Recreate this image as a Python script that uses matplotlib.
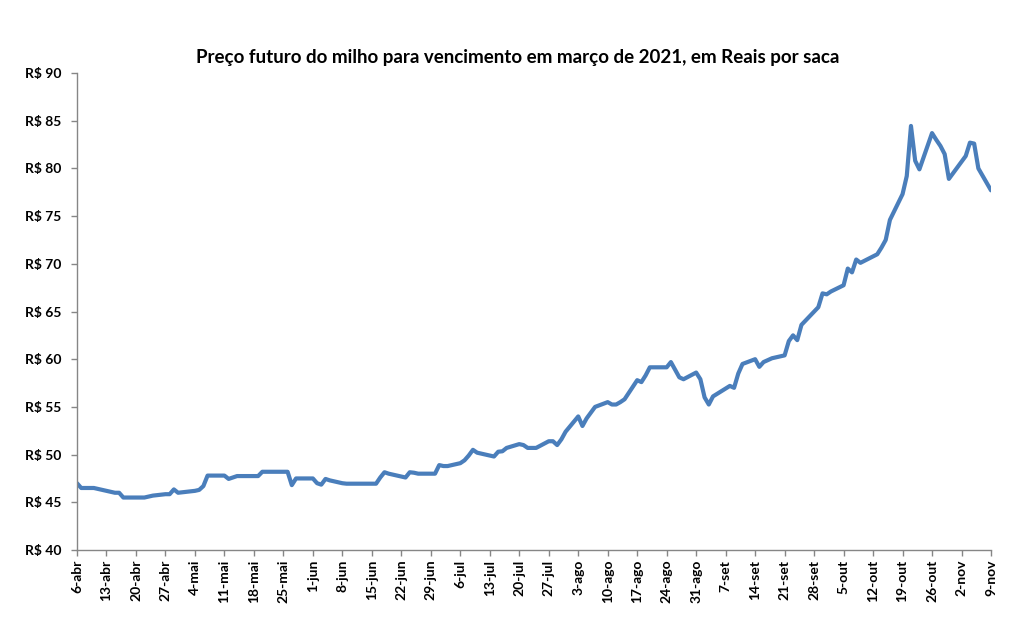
import matplotlib
matplotlib.use("Agg")
import matplotlib.pyplot as plt
import datetime as dt

# ---- data (2020 trading days, R$ per saca) ----
dates = [
    "2020-04-06", "2020-04-07", "2020-04-08", "2020-04-09", "2020-04-10",
    "2020-04-13", "2020-04-14", "2020-04-15", "2020-04-16", "2020-04-17",
    "2020-04-20", "2020-04-21", "2020-04-22", "2020-04-23", "2020-04-24",
    "2020-04-27", "2020-04-28", "2020-04-29", "2020-04-30",
    "2020-05-04", "2020-05-05", "2020-05-06", "2020-05-07", "2020-05-08",
    "2020-05-11", "2020-05-12", "2020-05-13", "2020-05-14", "2020-05-15",
    "2020-05-18", "2020-05-19", "2020-05-20", "2020-05-21", "2020-05-22",
    "2020-05-25", "2020-05-26", "2020-05-27", "2020-05-28", "2020-05-29",
    "2020-06-01", "2020-06-02", "2020-06-03", "2020-06-04", "2020-06-05",
    "2020-06-08", "2020-06-09", "2020-06-10", "2020-06-12",
    "2020-06-15", "2020-06-16", "2020-06-17", "2020-06-18", "2020-06-19",
    "2020-06-22", "2020-06-23", "2020-06-24", "2020-06-25", "2020-06-26",
    "2020-06-29", "2020-06-30", "2020-07-01", "2020-07-02", "2020-07-03",
    "2020-07-06", "2020-07-07", "2020-07-08", "2020-07-09", "2020-07-10",
    "2020-07-13", "2020-07-14", "2020-07-15", "2020-07-16", "2020-07-17",
    "2020-07-20", "2020-07-21", "2020-07-22", "2020-07-23", "2020-07-24",
    "2020-07-27", "2020-07-28", "2020-07-29", "2020-07-30", "2020-07-31",
    "2020-08-03", "2020-08-04", "2020-08-05", "2020-08-06", "2020-08-07",
    "2020-08-10", "2020-08-11", "2020-08-12", "2020-08-13", "2020-08-14",
    "2020-08-17", "2020-08-18", "2020-08-19", "2020-08-20", "2020-08-21",
    "2020-08-24", "2020-08-25", "2020-08-26", "2020-08-27", "2020-08-28",
    "2020-08-31", "2020-09-01", "2020-09-02", "2020-09-03", "2020-09-04",
    "2020-09-08", "2020-09-09", "2020-09-10", "2020-09-11",
    "2020-09-14", "2020-09-15", "2020-09-16", "2020-09-17", "2020-09-18",
    "2020-09-21", "2020-09-22", "2020-09-23", "2020-09-24", "2020-09-25",
    "2020-09-28", "2020-09-29", "2020-09-30", "2020-10-01", "2020-10-02",
    "2020-10-05", "2020-10-06", "2020-10-07", "2020-10-08", "2020-10-09",
    "2020-10-13", "2020-10-14", "2020-10-15", "2020-10-16",
    "2020-10-19", "2020-10-20", "2020-10-21", "2020-10-22", "2020-10-23",
    "2020-10-26", "2020-10-27", "2020-10-28", "2020-10-29", "2020-10-30",
    "2020-11-03", "2020-11-04", "2020-11-05", "2020-11-06",
    "2020-11-09",
]
prices = [
    47.0, 46.5, 46.5, 46.5, 46.5,
    46.2, 46.1, 46.0, 46.0, 45.5,
    45.5, 45.5, 45.5, 45.6, 45.7,
    45.85, 45.85, 46.35, 46.0,
    46.2, 46.3, 46.7, 47.8, 47.8,
    47.8, 47.45, 47.6, 47.75, 47.75,
    47.75, 47.75, 48.2, 48.2, 48.2,
    48.2, 48.2, 46.8, 47.5, 47.5,
    47.5, 47.0, 46.85, 47.45, 47.3,
    47.0, 46.95, 46.95, 46.95,
    46.95, 46.95, 47.6, 48.15, 48.0,
    47.7, 47.6, 48.15, 48.1, 48.0,
    48.0, 48.0, 48.9, 48.8, 48.8,
    49.1, 49.4, 49.9, 50.5, 50.2,
    49.9, 49.8, 50.3, 50.35, 50.7,
    51.1, 51.0, 50.7, 50.7, 50.7,
    51.4, 51.4, 51.0, 51.6, 52.4,
    54.0, 53.0, 53.8, 54.4, 55.0,
    55.5, 55.25, 55.25, 55.5, 55.8,
    57.8, 57.6, 58.3, 59.15, 59.15,
    59.15, 59.7, 58.9, 58.1, 57.9,
    58.6, 57.9, 56.0, 55.25, 56.1,
    57.2, 57.0, 58.5, 59.5,
    60.0, 59.2, 59.7, 59.9, 60.1,
    60.4, 61.9, 62.5, 62.0, 63.6,
    65.0, 65.45, 66.9, 66.8, 67.1,
    67.75, 69.5, 69.1, 70.45, 70.1,
    71.0, 71.7, 72.5, 74.6,
    77.3, 79.2, 84.45, 80.8, 79.9,
    83.7, 83.0, 82.35, 81.5, 78.9,
    81.3, 82.7, 82.6, 80.0,
    77.7,
]
title = "Preço futuro do milho para vencimento em março de 2021, em Reais por saca"
month_abbr = ["jan", "fev", "mar", "abr", "mai", "jun", "jul", "ago", "set", "out", "nov", "dez"]
y_ticks = [40, 45, 50, 55, 60, 65, 70, 75, 80, 85, 90]

x = [dt.datetime.strptime(d, "%Y-%m-%d") for d in dates]

plt.rcParams['font.family'] = ['Lato', 'DejaVu Sans']

fig = plt.figure(figsize=(10.15, 6.32), dpi=100)
ax = fig.add_axes([77/1015, 82/632, (991-77)/1015, (550-73)/632])

ax.plot(x, prices, color="#4A7EBB", lw=3.0, solid_joinstyle="round", solid_capstyle="round")

start = dt.datetime(2020, 4, 6)
end = dt.datetime(2020, 11, 9)
ax.set_xlim(start, end)
ax.set_ylim(40, 90)

tick_dates = []
d = start
while d <= end:
    tick_dates.append(d)
    d += dt.timedelta(days=7)
ax.set_xticks(tick_dates)
ax.set_xticklabels([f"{t.day}-{month_abbr[t.month-1]}" for t in tick_dates],
                   rotation=90, fontweight="bold", fontsize=10)
ax.set_yticks(y_ticks)
ax.set_yticklabels([f"R$ {v}" for v in y_ticks], fontweight="bold", fontsize=10)

for s in ["top", "right"]:
    ax.spines[s].set_visible(False)
for s in ["left", "bottom"]:
    ax.spines[s].set_color("#868686")
    ax.spines[s].set_linewidth(1.0)
ax.tick_params(axis="both", direction="out", length=4, color="#868686", width=1.0, pad=3)
ax.tick_params(axis="y", pad=7)

fig.text(518/1015, 1 - 58/632, title, ha="center", va="center", fontsize=13.5, fontweight="bold")

fig.savefig("out.png", dpi=100)
